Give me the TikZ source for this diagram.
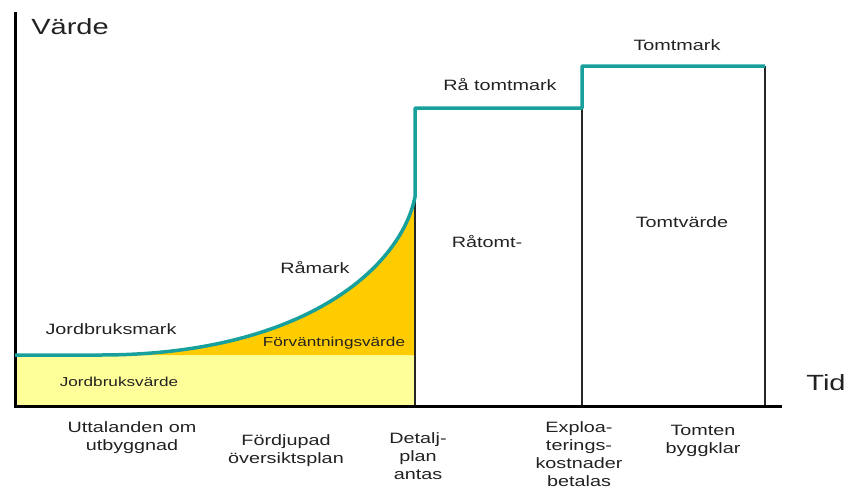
\documentclass[tikz,border=0pt]{standalone}
\usepackage{fontspec}
\setmainfont{Liberation Sans}[FakeStretch=1.32]
\definecolor{yel}{HTML}{FFFF99}
\definecolor{ora}{HTML}{FFCC00}
\definecolor{tealc}{HTML}{17A09C}
\definecolor{txt}{HTML}{222222}
\begin{document}
\begin{tikzpicture}[x=1pt,y=-1pt,
  lab/.style={font=\fontsize{15}{18}\selectfont, text=txt, inner sep=0pt, align=center},
  smalllab/.style={font=\fontsize{13}{16}\selectfont, text=txt, inner sep=0pt},
  biglab/.style={font=\fontsize{22}{26}\selectfont, text=txt, inner sep=0pt},
  axisline/.style={line width=3pt, black},
  vline/.style={line width=2pt, black!85},
  valueline/.style={line width=3.5pt, tealc, line join=round}]
\useasboundingbox (0,0) rectangle (846,488);
% named points
\coordinate (o) at (15,406);
\coordinate (ytop) at (15,12);
\coordinate (xend) at (782,406);
\coordinate (a0) at (15,355);
\coordinate (a1) at (100,355);
\coordinate (a2) at (415,197);
\coordinate (a2b) at (415,355);
\coordinate (a2c) at (415,406);
\coordinate (a3) at (415,108);
\coordinate (a4) at (582,108);
\coordinate (a4b) at (582,406);
\coordinate (a5) at (582,66);
\coordinate (a6) at (765,66);
\coordinate (a6b) at (765,406);
% fills
\fill[yel] (a0) rectangle (a2c);
\fill[ora] (a1) .. controls (300,355) and (400,270) .. (a2) -- (a2b) -- cycle;
% vertical separators
\draw[vline] (a2) -- (a2c);
\draw[vline] (a4) -- (a4b);
\draw[vline] (a6) -- (a6b);
% axes
\draw[axisline] (ytop) -- (o) -- (xend);
% value line
\draw[valueline] (a0) -- (a1) .. controls (300,355) and (400,270) .. (a2) -- (a3) -- (a4) -- (a5) -- (a6);
% labels
\node[biglab] (varde) at (70,27) {Värde};
\node[biglab] (tid) at (826,383) {Tid};
\node[lab] (jbm) at (111,329) {Jordbruksmark};
\node[smalllab] (fvv) at (334,343) {Förväntningsvärde};
\node[smalllab] (jbv) at (119,382) {Jordbruksvärde};
\node[lab] (ramark) at (315,268) {Råmark};
\node[lab] (ratm) at (500,85) {Rå tomtmark};
\node[lab] (tm) at (677,45) {Tomtmark};
\node[lab] (ratomt) at (487,242) {Råtomt-};
\node[lab] (tv) at (682,222) {Tomtvärde};
\node[lab] (b1) at (132,438) {Uttalanden om\\utbyggnad};
\node[lab] (b2) at (286,451) {Fördjupad\\översiktsplan};
\node[lab] (b3) at (418,456) {Detalj-\\plan\\antas};
\node[lab] (b4) at (579,454) {Exploa-\\terings-\\kostnader\\betalas};
\node[lab] (b5) at (703,441) {Tomten\\byggklar};
\end{tikzpicture}
\end{document}
